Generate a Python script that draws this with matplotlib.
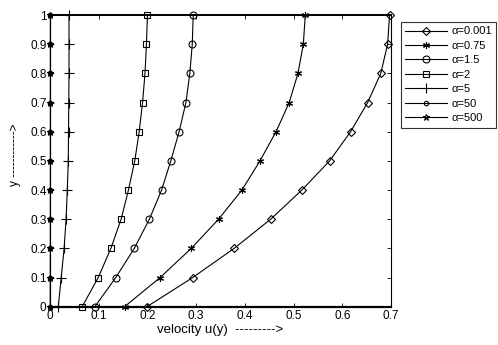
import matplotlib
matplotlib.use("Agg")
import matplotlib.pyplot as plt

plt.rcParams['font.family'] = ['Liberation Sans', 'DejaVu Sans']

y_vals = [0.0, 0.1, 0.2, 0.3, 0.4, 0.5, 0.6, 0.7, 0.8, 0.9, 1.0]

u_a0001 = [0.199, 0.293, 0.378, 0.453, 0.517, 0.574, 0.617, 0.652, 0.679, 0.693, 0.697]
u_a075 = [0.153, 0.226, 0.290, 0.346, 0.394, 0.431, 0.464, 0.491, 0.509, 0.520, 0.524]
u_a15 = [0.092, 0.135, 0.173, 0.204, 0.229, 0.248, 0.265, 0.279, 0.287, 0.292, 0.294]
u_a2 = [0.066, 0.099, 0.125, 0.146, 0.161, 0.174, 0.183, 0.190, 0.195, 0.198, 0.200]
u_a5 = [0.017, 0.023, 0.029, 0.033, 0.0355, 0.0375, 0.038, 0.0385, 0.039, 0.039, 0.039]
u_a50 = [0.0005, 0.0006, 0.0007, 0.0007, 0.0008, 0.0008, 0.0008, 0.0008, 0.0008, 0.0008, 0.0008]
u_a500 = [0.0, 0.0, 0.0, 0.0, 0.0, 0.0, 0.0, 0.0, 0.0, 0.0, 0.0]

labels = ['α=0.001', 'α=0.75', 'α=1.5', 'α=2', 'α=5', 'α=50', 'α=500']
profiles = [u_a0001, u_a075, u_a15, u_a2, u_a5, u_a50, u_a500]
markers = ['D', (6, 2, 0), 'o', 's', '+', 'h', '*']
marker_sizes = [4.0, 5.0, 5.0, 5.0, 6.5, 3.5, 4.5]

x_ticks = [0, 0.1, 0.2, 0.3, 0.4, 0.5, 0.6, 0.7]
x_tick_labels = ['0', '0.1', '0.2', '0.3', '0.4', '0.5', '0.6', '0.7']
y_ticks = [0, 0.1, 0.2, 0.3, 0.4, 0.5, 0.6, 0.7, 0.8, 0.9, 1.0]
y_tick_labels = ['0', '0.1', '0.2', '0.3', '0.4', '0.5', '0.6', '0.7', '0.8', '0.9', '1']

fig = plt.figure(figsize=(4.98, 3.45), dpi=100)
ax = fig.add_axes([0.1004, 0.111, 0.6848, 0.8455])

for u, m, ms, lab in zip(profiles, markers, marker_sizes, labels):
    ax.plot(u, y_vals, color='black', linewidth=0.8, marker=m, markersize=ms,
            markerfacecolor='none', markeredgecolor='black', markeredgewidth=0.8,
            label=lab, clip_on=False)

ax.set_xlim(0, 0.7)
ax.set_ylim(0, 1)
ax.set_xticks(x_ticks)
ax.set_xticklabels(x_tick_labels)
ax.set_yticks(y_ticks)
ax.set_yticklabels(y_tick_labels)
ax.tick_params(direction='in', length=3, width=0.6, labelsize=8.5, pad=2.5,
               top=True, right=True)
for s in ax.spines.values():
    s.set_linewidth(0.8)
ax.spines['bottom'].set_linewidth(1.6)
ax.spines['top'].set_linewidth(1.4)

ax.set_xlabel('velocity u(y)  --------->', fontsize=9.5, labelpad=1)
fig.text(15 / 498, 1 - 155 / 345, 'y ------------>', rotation=90, fontsize=8.5,
         ha='center', va='center')

leg = ax.legend(loc='upper left', bbox_to_anchor=(401 / 498, 1 - 22 / 345),
                bbox_transform=fig.transFigure, fontsize=8.0, frameon=True,
                fancybox=False, edgecolor='black', handlelength=3.7,
                handletextpad=0.4, labelspacing=0.4, borderpad=0.4,
                borderaxespad=0)
leg.get_frame().set_linewidth(0.8)

fig.savefig('out.png', dpi=100)
